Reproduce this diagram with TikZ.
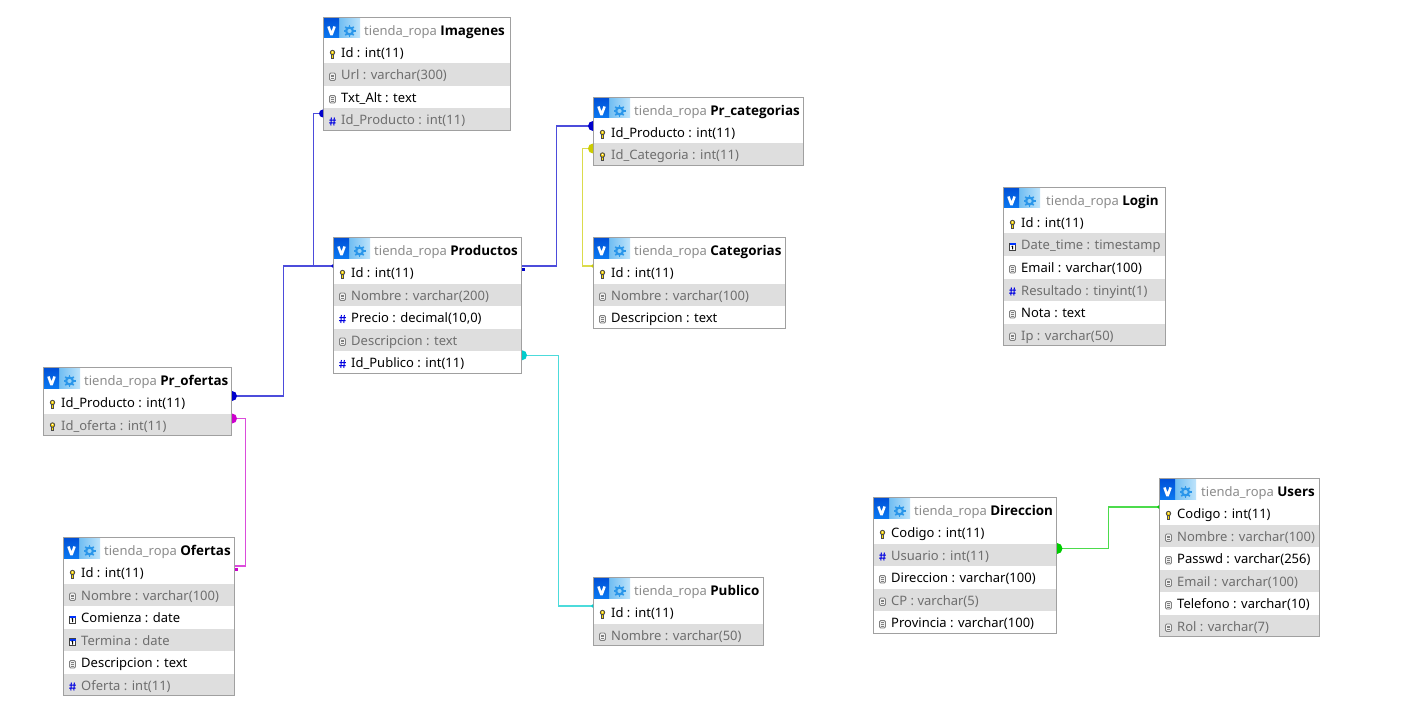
\documentclass[tikz,border=0pt]{standalone}
\usepackage{fontspec}
\setmainfont{Noto Sans}
\newfontfamily\ttlbold{Open Sans}
\definecolor{rowgrey}{HTML}{DEDEDE}
\definecolor{tblborder}{HTML}{A0A0A0}
\definecolor{greytxt}{HTML}{6E6E6E}
\definecolor{titlegrey}{HTML}{8C8C8C}
\definecolor{hashblue}{HTML}{0000E0}
\definecolor{gearblue}{HTML}{2A96EA}
\definecolor{hdrL}{HTML}{6FBDF2}
\definecolor{hdrR}{HTML}{BFE4FB}
\definecolor{hdrT}{HTML}{0050D8}
\definecolor{hdrB}{HTML}{0A78F0}
\tikzset{
  rowbg/.style={anchor=north west,inner sep=0pt,outer sep=0pt,minimum height=22.5pt},
  rowtext/.style={anchor=base west,inner sep=0pt,font=\fontsize{13}{15}\selectfont},
  tabletitle/.style={anchor=base west,inner sep=0pt,font=\fontsize{13}{15}\selectfont},
  tableframe/.style={draw=tblborder,line width=1pt,anchor=north west,inner sep=0pt,outer sep=0pt},
  link/.style={line width=1.5pt},
  up/.style={yshift=6.25pt}
}
% row icons
\newcommand{\ick}{%
  \fill[black!70] (-1.3,0.3) rectangle (1.3,4.6);
  \fill[yellow!85!orange] (-0.5,0.3) rectangle (0.5,3.9);
  \draw[black!70,fill=yellow!75!orange,line width=0.9pt] (0,-1.5) circle[radius=2.2pt];
  \fill[white] (0,-2) circle[radius=0.7pt];}
\newcommand{\icd}{%
  \draw[black!50,fill=black!6,line width=0.9pt,rounded corners=1.2pt] (-3,-3.5) rectangle (3,4);
  \draw[black!50,line width=0.7pt] (-1.5,-1.5)--(1.5,-1.5) (-1.5,0.3)--(1.5,0.3) (-1.5,2)--(1.5,2);}
\newcommand{\ich}{%
  \draw[hashblue,line width=1pt] (-1.2,-4)--(-1.6,4) (1.8,-4)--(1.4,4) (-3.2,-1.4)--(3.4,-1.4) (-3.4,1.5)--(3.2,1.5);}
\newcommand{\icc}{%
  \draw[black!75,fill=white,line width=0.9pt] (-3,-3) rectangle (3,4);
  \fill[blue!80!cyan] (-3,-3) rectangle (3,-1);
  \draw[black,line width=1pt] (-0.9,0)--(0.2,-0.3)--(0.2,3);}
\newcommand{\titleoff}{41}
% table: id, left, top, right, nrows, name, rows
\newcommand{\dbtable}[7]{%
  \pgfmathsetmacro{\tw}{#4-#2}
  \pgfmathsetmacro{\th}{24+22.5*#5}
  \fill[white] (#2,#3) rectangle (#4,#3+\th);
  \foreach \ic/\txt [count=\n] in {#7}{
    \pgfmathsetmacro{\ry}{#3+24+22.5*(\n-1)}
    \pgfmathtruncatemacro{\isev}{mod(\n,2)==0}
    \ifnum\isev=1
      \node[rowbg,fill=rowgrey,minimum width=\tw pt] (#1-r\n) at (#2,\ry) {};
      \node[rowtext,text=greytxt] (#1-t\n) at (#2+18,\ry+16.5) {\txt};
    \else
      \node[rowbg,minimum width=\tw pt] (#1-r\n) at (#2,\ry) {};
      \node[rowtext] (#1-t\n) at (#2+18,\ry+16.5) {\txt};
    \fi
    \begin{scope}[shift={(#2+9.5,\ry+13)}]\csname ic\ic\endcsname\end{scope}
  }
  % header icon
  \begin{scope}[shift={(#2,#3)}]
    \shade[left color=hdrL,right color=hdrR] (16,1) rectangle (37,21);
    \shade[top color=hdrT,bottom color=hdrB] (1,1) rectangle (16,21);
    \draw[white,line width=2.5pt,line join=bevel] (5.4,9.5)--(8.5,18)--(11.6,9.5);
    \draw[gearblue,line width=2.2pt] (26.5,14) circle[radius=3.4pt];
    \foreach \a in {0,45,...,315}{\draw[gearblue,line width=1.5pt] ([shift={(\a:3.4pt)}]26.5,14)--([shift={(\a:6pt)}]26.5,14);}
  \end{scope}
  \node[tabletitle] (#1-title) at (#2+\titleoff,#3+18.3) {\textcolor{titlegrey}{tienda\_ropa} {\ttlbold\bfseries\fontsize{13.4}{15}\selectfont #6}};
  \node[tableframe,minimum width=\tw pt-1pt,minimum height=\th pt-1pt] (#1) at (#2+0.5,#3+0.5) {};
}
\newcommand{\halfR}[3]{\fill[#2] ([up]#1.east) ++(0,#3) arc[start angle=90,end angle=-90,radius=#3];}
\newcommand{\halfL}[3]{\fill[#2] ([up]#1.west) ++(0,#3) arc[start angle=90,end angle=270,radius=#3];}
\begin{document}
\begin{tikzpicture}[x=1pt,y=-1pt]
\useasboundingbox (0,0) rectangle (1403,722);
\fill[white] (0,0) rectangle (1403,722);

\dbtable{Imagenes}{323}{17}{511}{4}{Imagenes}{k/{Id : int(11)},d/{Url : varchar(300)},d/{Txt\_Alt : text},h/{Id\_Producto : int(11)}}
\dbtable{PrCategorias}{593}{97}{804}{2}{Pr\_categorias}{k/{Id\_Producto : int(11)},k/{Id\_Categoria : int(11)}}
\dbtable{Productos}{333}{237}{522}{5}{Productos}{k/{Id : int(11)},d/{Nombre : varchar(200)},h/{Precio : decimal(10,0)},d/{Descripcion : text},h/{Id\_Publico : int(11)}}
\dbtable{Categorias}{593}{237}{786}{3}{Categorias}{k/{Id : int(11)},d/{Nombre : varchar(100)},d/{Descripcion : text}}
\renewcommand{\titleoff}{43}
\dbtable{Login}{1003}{187}{1166}{6}{Login}{k/{Id : int(11)},c/{Date\_time : timestamp},d/{Email : varchar(100)},h/{Resultado : tinyint(1)},d/{Nota : text},d/{Ip : varchar(50)}}
\renewcommand{\titleoff}{41}
\dbtable{PrOfertas}{43}{367}{232}{2}{Pr\_ofertas}{k/{Id\_Producto : int(11)},k/{Id\_oferta : int(11)}}
\dbtable{Ofertas}{63}{537}{235}{6}{Ofertas}{k/{Id : int(11)},d/{Nombre : varchar(100)},c/{Comienza : date},c/{Termina : date},d/{Descripcion : text},h/{Oferta : int(11)}}
\dbtable{Publico}{593}{577}{764}{2}{Publico}{k/{Id : int(11)},d/{Nombre : varchar(50)}}
\dbtable{Direccion}{873}{497}{1057}{5}{Direccion}{k/{Codigo : int(11)},h/{Usuario : int(11)},d/{Direccion : varchar(100)},d/{CP : varchar(5)},d/{Provincia : varchar(100)}}
\renewcommand{\titleoff}{42}
\dbtable{Users}{1159}{478}{1320}{6}{Users}{k/{Codigo : int(11)},d/{Nombre : varchar(100)},d/{Passwd : varchar(256)},d/{Email : varchar(100)},d/{Telefono : varchar(10)},d/{Rol : varchar(7)}}

% connectors
\definecolor{lkblue}{HTML}{0000CC}
\definecolor{lkmag}{HTML}{CC00CC}
\definecolor{lkcyan}{HTML}{00CCCC}
\definecolor{lkyel}{HTML}{CCCC00}
\definecolor{lkgreen}{HTML}{00CC00}
\draw[link,lkblue!70] ([up]Productos-r1.west) -- ++(-19.5,0) |- ([up]Imagenes-r4.west);
\draw[link,lkblue!70] ([up]PrOfertas-r1.east) -- ++(51.5,0) |- ([up]Productos-r1.west);
\draw[link,lkblue!70] ([up]Productos-r1.east) -- ++(34.5,0) |- ([up]PrCategorias-r1.west);
\draw[link,lkyel!70] ([up]Categorias-r1.west) -- ++(-10.5,0) |- ([up]PrCategorias-r2.west);
\draw[link,lkcyan!70] ([yshift=7pt]Productos-r5.east) -- ++(36.5,0) |- ([up]Publico-r1.west);
\draw[link,lkmag!70] ([up]PrOfertas-r2.east) -- ++(13.5,0) |- ([up]Ofertas-r1.east);
\draw[link,lkgreen!70] ([up]Direccion-r2.east) -- ++(51.5,0) |- ([up]Users-r1.west);

% end markers
\halfR{PrOfertas-r1}{lkblue}{5pt}
\halfR{PrOfertas-r2}{lkmag}{5pt}
\halfL{PrCategorias-r1}{lkblue}{5pt}
\halfL{PrCategorias-r2}{lkyel}{5pt}
\halfL{Imagenes-r4}{lkblue}{4pt}
\halfR{Direccion-r2}{lkgreen}{5.5pt}
\fill[lkcyan] ([yshift=7pt]Productos-r5.east) ++(0,5pt) arc[start angle=90,end angle=-90,radius=5pt];
\fill[lkblue] ([up,yshift=-1.5pt]Productos-r1.east) rectangle ++(3,3);
\fill[lkmag] ([up,yshift=-1.5pt]Ofertas-r1.east) rectangle ++(3,3);
\halfL{Productos-r1}{lkblue}{1.8pt}
\halfL{Categorias-r1}{lkyel}{1.8pt}
\halfL{Publico-r1}{lkcyan}{1.8pt}
\halfL{Users-r1}{lkgreen}{1.8pt}
\end{tikzpicture}
\end{document}
